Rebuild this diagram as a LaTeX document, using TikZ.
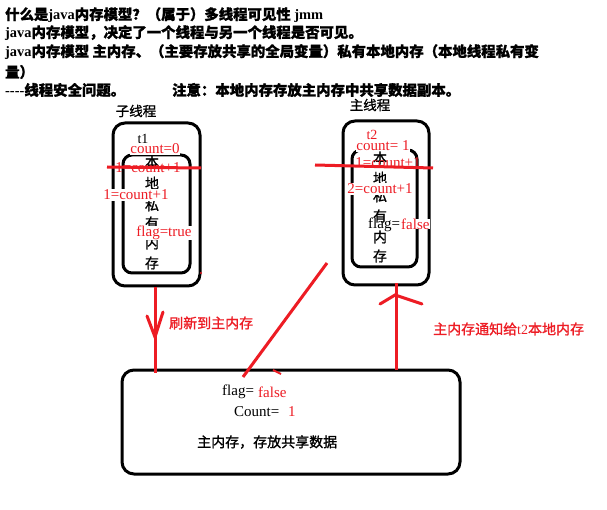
\documentclass[tikz,border=0pt]{standalone}
\usepackage{fontspec}
\setmainfont{Liberation Serif}
\newfontfamily\cjk{Noto Sans CJK SC}[FakeBold=1.2]
\definecolor{mred}{RGB}{237,28,36}
\tikzset{
  outbox/.style={draw=black, line width=3pt, rounded corners=12pt, inner sep=0pt},
  inbox/.style={draw=black, line width=3pt, rounded corners=9pt, inner sep=0pt},
  hdr/.style={anchor=west, inner sep=0pt, font=\bfseries\fontsize{14.4}{16}\selectfont},
  rlab/.style={text=mred, inner sep=0.5pt, font=\fontsize{15}{16}\selectfont},
  rlabw/.style={rlab, fill=white},
  blab/.style={text=black, inner sep=0pt, font=\fontsize{15}{16}\selectfont},
  stk/.style={inner sep=0pt, font=\cjk\fontsize{14}{15}\selectfont},
  zh/.style={inner sep=0pt, font=\cjk\fontsize{13.5}{16}\selectfont},
  rzh/.style={inner sep=0pt, text=mred, font=\fontsize{14}{16}\selectfont},
  rline/.style={draw=mred, line width=3pt},
}
\begin{document}
\begin{tikzpicture}[x=1pt,y=-1pt]
\useasboundingbox[fill=white] (0,0) rectangle (607,510);

% header
\node[hdr] (h1) at (5,15) {{\cjk 什么是}java{\cjk 内存模型？（属于）多线程可见性} jmm};
\node[hdr] (h2) at (5,33) {java{\cjk 内存模型，决定了一个线程与另一个线程是否可见。}};
\node[hdr] (h3) at (5,52) {java{\cjk 内存模型 主内存、（主要存放共享的全局变量）私有本地内存（本地线程私有变}};
\node[hdr] (h4) at (5,72) {{\cjk 量）}};
\node[hdr] (h5) at (5,90) {{-}{-}{-}{-}{\cjk 线程安全问题。}};
\node[hdr] (h6) at (172,90) {{\cjk 注意：本地内存存放主内存中共享数据副本。}};

% titles
\node[zh] (tsub) at (136,111) {子线程};
\node[zh] (tmain) at (370,105) {主线程};

% boxes
\node[outbox, minimum width=87pt, minimum height=163pt] (lout) at (156.5,204.5) {};
\node[inbox, minimum width=67pt, minimum height=118pt] (lin) at (156.5,214) {};
\node[outbox, minimum width=86pt, minimum height=164pt] (rout) at (386,203) {};
\node[inbox, minimum width=65pt, minimum height=117pt] (rin) at (384.5,208.5) {};
\node[outbox, minimum width=338pt, minimum height=104pt] (mem) at (291,422) {};

% left thread
\node[blab, font=\fontsize{14}{16}\selectfont] (t1) at (143,139) {t1};
\node[rlabw] (lc0) at (155,149) {count=0};
\node[stk] (lb1) at (152,162) {本};
\node[rlab] (lstrike) at (148,168) {1=count+1};
\node[stk] (lb2) at (152,183) {地};
\node[stk] (lb3) at (152,205) {私};
\node[stk] (lb4) at (152,223) {有};
\node[stk] (lb5) at (152,243) {内};
\node[stk] (lb6) at (152,263) {存};
\node[rlabw] (lc1) at (136,195) {1=count+1};
\node[rlabw] (lflag) at (164,233) {flag=true};
\coordinate (ls1) at (107,167);
\coordinate (ls2) at (201,168);
\draw[rline] (ls1) -- (ls2);

% right thread
\node[rlab, font=\fontsize{14}{16}\selectfont] (t2) at (372,135) {t2};
\node[rlabw] (rc1) at (383,146) {count= 1};
\node[stk] (rb1) at (380,158) {本};
\node[rlab] (rstrike) at (388,163) {1=count+1};
\node[stk] (rb2) at (380,178) {地};
\node[stk] (rb3) at (380,196) {私};
\node[stk] (rb4) at (380,216) {有};
\node[stk] (rb5) at (380,237) {内};
\node[stk] (rb6) at (380,256) {存};
\node[rlabw] (rc2) at (380,189) {2=count+1};
\node[blab, anchor=west] (rflag) at (368,225) {flag=};
\node[rlabw, anchor=west, inner sep=0pt] (rfalse) at (401,224) {false};
\coordinate (rs1) at (315,165);
\coordinate (rs2) at (433,168);
\draw[rline] (rs1) -- (rs2);

% main memory contents
\node[blab, anchor=west] (mflag) at (222,392) {flag=};
\node[rlab, anchor=west, inner sep=0pt] (mfalse) at (258,392) {false};
\node[blab, anchor=west] (mcount) at (234,412) {Count=};
\node[rlab, anchor=west, inner sep=0pt] (mone) at (288,412) {1};
\node[zh, anchor=west, font=\cjk\fontsize{14}{16}\selectfont] (mtxt) at (197,442) {主内存，存放共享数据};

% arrow: flush to main memory
\coordinate (a1s) at (155,287);
\coordinate (a1e) at (155,373);
\coordinate (a1t) at (155,337);
\coordinate (a1l) at (147,316);
\coordinate (a1r) at (163,312);
\draw[rline] (a1s) -- (a1e);
\draw[rline, line cap=round] (a1l) -- (a1t) -- (a1r);
\node[rzh, anchor=west, font=\cjk\fontsize{14}{16}\selectfont] (lbl1) at (169,323) {刷新到主内存};

% arrow: notify t2
\coordinate (a2s) at (396,370);
\coordinate (a2e) at (396,283);
\coordinate (a2t) at (395,295);
\coordinate (a2l) at (380,304);
\coordinate (a2r) at (422,304);
\draw[rline] (a2s) -- (a2e);
\draw[rline, line cap=round] (a2l) -- (a2t) -- (a2r);
\node[rzh, anchor=west] (lbl2) at (433,329) {{\cjk 主内存通知给}t2{\cjk 本地内存}};

% diagonal stroke
\coordinate (d1) at (327,263);
\coordinate (d2) at (243,377);
\draw[rline] (d1) -- (d2);
\coordinate (k1) at (273,370);
\coordinate (k2) at (281,374);
\draw[draw=mred, line width=2pt] (k1) -- (k2);
\coordinate (dot1) at (201,273);
\fill[mred] (dot1) circle (1.2pt);
\end{tikzpicture}
\end{document}
